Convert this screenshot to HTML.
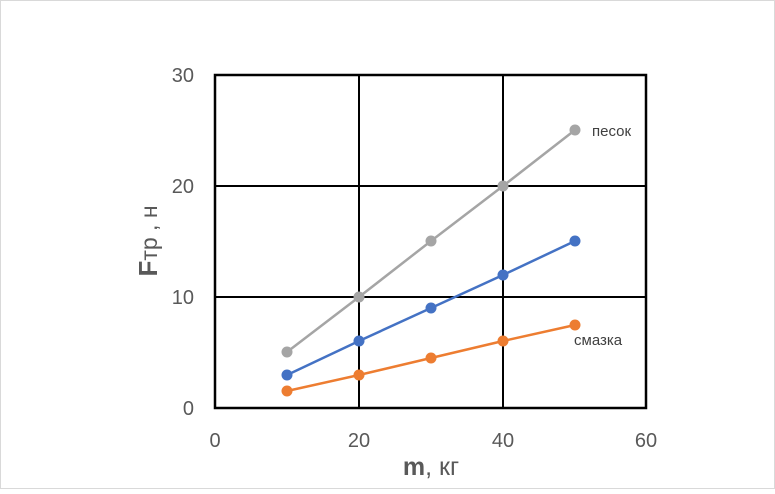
<!DOCTYPE html>
<html><head><meta charset="utf-8"><style>body{margin:0;background:#fff}</style></head><body>
<svg width="775" height="489" xmlns="http://www.w3.org/2000/svg" font-family="Liberation Sans, sans-serif">
<rect x="0.5" y="0.5" width="774" height="488" fill="#fff" stroke="#d9d9d9"/>
<g stroke="#000" stroke-width="2">
<line x1="359" y1="75" x2="359" y2="408"/><line x1="503" y1="75" x2="503" y2="408"/>
<line x1="215" y1="186" x2="646" y2="186"/><line x1="215" y1="297" x2="646" y2="297"/>
<rect x="215" y="75" width="431" height="333" fill="none" stroke-width="2.5"/>
</g>
<g fill="#595959" font-size="20">
<g text-anchor="end"><text x="194" y="82">30</text><text x="194" y="193">20</text><text x="194" y="304">10</text><text x="194" y="415">0</text></g>
<g text-anchor="middle"><text x="215" y="447">0</text><text x="359" y="447">20</text><text x="503" y="447">40</text><text x="646" y="447">60</text></g>
</g>
<text x="431" y="475" text-anchor="middle" fill="#595959" font-size="25"><tspan font-weight="bold">m</tspan>, кг</text>
<text transform="translate(157,241) rotate(-90)" text-anchor="middle" fill="#595959" font-size="23"><tspan font-weight="bold" font-size="26">F</tspan>тр , н</text>
<g stroke-width="2.5" fill="none">
<polyline stroke="#a5a5a5" points="287,352 359,297 431,241 503,186 575,130"/>
<polyline stroke="#4472c4" points="287,375 359,341 431,308 503,275 575,241"/>
<polyline stroke="#ed7d31" points="287,391 359,375 431,358 503,341 575,325"/>
</g>
<g fill="#a5a5a5"><circle cx="287" cy="352" r="5.5"/><circle cx="359" cy="297" r="5.5"/><circle cx="431" cy="241" r="5.5"/><circle cx="503" cy="186" r="5.5"/><circle cx="575" cy="130" r="5.5"/></g>
<g fill="#4472c4"><circle cx="287" cy="375" r="5.5"/><circle cx="359" cy="341" r="5.5"/><circle cx="431" cy="308" r="5.5"/><circle cx="503" cy="275" r="5.5"/><circle cx="575" cy="241" r="5.5"/></g>
<g fill="#ed7d31"><circle cx="287" cy="391" r="5.5"/><circle cx="359" cy="375" r="5.5"/><circle cx="431" cy="358" r="5.5"/><circle cx="503" cy="341" r="5.5"/><circle cx="575" cy="325" r="5.5"/></g>
<text x="592" y="136" fill="#404040" font-size="15">песок</text>
<text x="574" y="345" fill="#404040" font-size="15">смазка</text>
</svg>
</body></html>
